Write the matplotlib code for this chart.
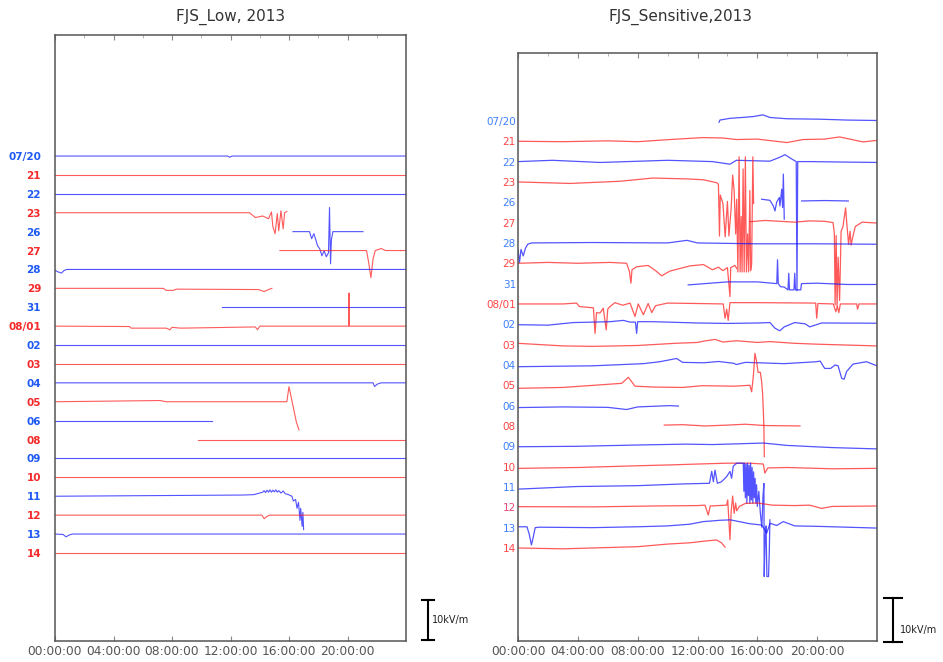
import matplotlib.pyplot as plt
import numpy as np

days = ['07/20', '21', '22', '23', '26', '27', '28', '29', '31', '08/01', '02',
        '03', '04', '05', '06', '08', '09', '10', '11', '12', '13', '14']
spacing = 4.7  # kV/m between two day baselines
tick_hours = [0, 4, 8, 12, 16, 20]
tick_labels = ['00:00:00', '04:00:00', '08:00:00', '12:00:00', '16:00:00', '20:00:00']

# ---- FJS_Low: segments of (hour, kV/m above the day's baseline)
low_0720 = [[(0, 0), (11.8, 0), (11.95, -0.3), (12.1, 0), (24, 0)]]
low_21 = [[(0, 0), (24, 0)]]
low_22 = [[(0, 0), (24, 0)]]
low_23 = [[(0, 0), (13.3, 0), (13.7, -1.2), (14.2, -0.8), (14.6, -1.5), (14.8, 0.2), (14.9, -3.5),
           (15.05, -5.2), (15.2, -0.2), (15.3, -4.5), (15.45, 0.5), (15.6, -4), (15.7, 0), (15.85, 0.3)]]
low_26 = [[(16.27, 0), (17.4, 0), (17.55, -1.75), (17.7, -0.5), (17.85, -2.25), (17.95, -3.5),
           (18.1, -4.25), (18.25, -6), (18.4, -4.75), (18.55, -6.25), (18.7, -5.25), (18.77, 6),
           (18.84, -8), (18.9, -2), (19.0, 0), (21.06, 0)]]
low_27 = [[(15.38, 0), (21.3, 0), (21.45, -3), (21.6, -6.75), (21.75, -2), (21.9, 0), (22.3, 0.5),
           (22.6, 0), (24, 0)]]
low_28 = [[(0, -0.2), (0.2, -0.6), (0.45, -0.9), (0.6, -0.3), (0.8, 0), (24, 0)]]
low_29 = [[(0, 0), (7.4, 0), (7.6, -0.5), (8.1, -0.5), (8.3, -0.2), (13.9, -0.3), (14.3, -0.8),
           (14.6, -0.3), (14.83, 0)]]
low_31 = [[(11.42, 0), (24, 0)]]
low_0801 = [[(0, 0), (5.1, -0.1), (5.2, -0.5), (5.8, -0.5), (7.6, -0.5), (7.85, -0.9), (8.0, -0.3),
             (8.6, -0.5), (13.7, -0.2), (13.85, -0.9), (14.0, 0), (20.08, 0), (20.1, 8.25),
             (20.13, 0), (24, 0)]]
low_02 = [[(0, 0), (24, 0)]]
low_03 = [[(0, 0), (24, 0)]]
low_04 = [[(0, 0), (21.75, 0), (21.85, -0.9), (22.05, -0.3), (22.3, 0), (24, 0)]]
low_05 = [[(0, 0), (7.2, 0.3), (7.6, 0), (15.85, 0), (16.0, 3.75), (16.1, 2), (16.3, -1.5),
           (16.5, -5), (16.68, -7)]]
low_06 = [[(0, 0), (10.75, 0)]]
low_08 = [[(9.78, 0), (24, 0)]]
low_09 = [[(0, 0), (24, 0)]]
low_10 = [[(0, 0), (24, 0)]]
low_11 = [[(0, 0), (12.9, 0.3), (13.6, 0.4), (14.2, 1.0), (14.3, 1.4), (14.4, 0.9), (14.5, 1.5),
           (14.6, 1.0), (14.7, 1.6), (14.8, 1.0), (14.9, 1.5), (15.0, 1.1), (15.1, 1.6),
           (15.2, 1.0), (15.3, 1.4), (15.45, 0.8), (15.6, 1.3), (15.75, 0.6), (15.9, 0.5),
           (16.2, 0), (16.3, -1.2), (16.45, -0.8), (16.55, -3), (16.65, -1.5), (16.75, -6),
           (16.8, -3), (16.9, -7.5), (16.95, -4), (17.0, -8.3)]]
low_12 = [[(0, 0), (14.15, 0), (14.3, -0.9), (14.5, -0.3), (14.7, 0), (24, 0)]]
low_13 = [[(0, 0), (0.55, -0.1), (0.75, -0.7), (1.0, -0.2), (1.2, 0), (24, 0)]]
low_14 = [[(0, 0), (24, 0)]]

# ---- FJS_Sensitive
sen_0720 = [[(13.44, -0.3), (13.5, 0.2), (14.17, 0.6), (15.0, 0.8), (15.71, 1.0), (16.38, 1.4),
             (16.84, 0.8), (17.98, 0.5), (20.19, 0.4), (22.0, 0.2), (24, 0.1)]]
sen_21 = [[(0, 0), (3, -0.1), (6, 0.1), (8, -0.1), (10.16, 0.4), (12.37, 0.85), (13.7, 0.75),
           (14.6, 0.4), (16.0, 0.5), (17.98, -0.3), (19.05, 0.4), (20.5, 0.5), (21.5, 1.0),
           (23.06, -0.15), (24, 0.2)]]
sen_22 = [[(0, 0), (2.3, 0.3), (5.5, -0.2), (10.0, 0.3), (13.0, 0), (14.17, -0.6), (14.6, 0.3),
           (16.84, 0.1), (17.5, 1.0), (17.85, 1.6), (18.3, 0.6), (18.6, 0), (18.65, -29.8),
           (18.7, 0), (19.5, 0), (24, -0.2)]]
sen_23 = [[(0, 0), (3.48, -0.35), (6.8, 0.15), (9.0, 0.9), (11.3, 0.7), (12.4, 0.5), (13.3, -0.2),
           (13.4, -0.6), (13.47, -12.5), (13.52, -3), (13.7, -5), (13.85, -12.7), (14.0, -4.5),
           (14.1, -12.5), (14.25, -6), (14.35, 1.6), (14.45, -2), (14.55, -12), (14.62, -4),
           (14.7, -20.8), (14.78, 5.8), (14.85, -20.8), (14.92, -8), (14.98, -20.8), (15.05, 3),
           (15.12, -20.8), (15.2, 5.8), (15.27, -20.8), (15.35, -12), (15.42, -20.8), (15.5, -2),
           (15.55, -20.5), (15.62, -19), (15.7, 5.8), (15.75, -5)]]
sen_26 = [[(16.29, 0.7), (16.84, 0.45), (17.07, -0.85), (17.18, -2.0), (17.29, 0), (17.47, 1.1),
           (17.51, -0.85), (17.63, 3), (17.69, -1.2), (17.74, 6.5), (17.8, -3.9)],
          [(18.96, 0.3), (20.5, 0.4), (22.08, 0.3)]]
sen_27 = [[(15.5, 0.2), (16.5, 0.5), (17.5, 0.3), (18.5, 0.1), (19.5, 0.4), (20.5, 0.3),
           (21.06, 0), (21.15, -2.5), (21.2, -19), (21.27, -3), (21.33, -19.4), (21.4, -8),
           (21.5, -18), (21.6, -2), (21.72, -1), (21.9, 3.4), (22.0, -1), (22.1, -5), (22.2, -2),
           (22.27, -5.2), (22.4, -3), (22.55, -0.9), (23.0, 0.1), (24, -0.1)]]
sen_28 = [[(0, -1.5), (0.1, -4.5), (0.2, -1.5), (0.35, -3), (0.5, -1.2), (0.65, -0.3), (0.9, 0),
           (5, 0.1), (10, 0), (11.3, 0.6), (12, 0), (16, -0.2), (20, -0.2), (24, -0.3)]]
sen_29 = [[(0, 0), (2, 0.2), (4, 0), (6.15, 0.2), (7.26, 0), (7.45, -1.9), (7.55, -4.6),
           (7.62, -1.5), (7.93, -0.8), (8.7, -0.5), (9.27, -1.9), (9.6, -2.9), (10.16, -1.8),
           (11.5, -0.6), (12.4, -0.3), (13.0, -1.5), (13.4, -0.9), (13.7, -1.7), (14.0, -1.0),
           (14.17, -7.7), (14.22, -1.0), (14.5, -0.5), (14.62, -1.2)]]
sen_31 = [[(11.38, -0.3), (14, 0.4), (16, 0.4), (17.3, 0), (17.35, 5.5), (17.4, 0), (17.55, -0.7),
           (17.8, -0.8), (18.05, -1.45), (18.1, 2.4), (18.15, -1.45), (18.45, -1.45), (18.5, 2.4),
           (18.55, -1.45), (18.9, -1.45), (18.95, 0), (20, 0.1), (22, -0.2), (24, -0.2)]]
sen_0801 = [[(0, 0), (3, 0), (3.92, 0.2), (4.1, -0.6), (5.04, -0.9), (5.15, -6.8), (5.25, -2),
             (5.48, -2.1), (5.7, -1.0), (5.9, -6.0), (6.0, -1.2), (6.15, -0.6), (6.48, 0.3),
             (7.0, -0.3), (7.49, 0.2), (7.82, -2.9), (8.04, 0), (8.38, -2.5), (8.7, 0.1),
             (8.94, -2.0), (9.2, -0.4), (10, 0.2), (12, 0.1), (13.72, 0), (13.84, -3.3),
             (13.95, -1.2), (14.05, -3.8), (14.17, 0.3), (16, 0.3), (19.9, 0.2), (19.97, -3.3),
             (20.05, 0.1), (21.08, 0), (21.25, -1.8), (21.35, -0.6), (21.45, -2.0), (21.55, 0),
             (22.64, 0), (22.7, -1.2), (22.8, 0), (24, 0)]]
sen_02 = [[(0, -0.1), (2, -0.2), (3.7, 0.4), (5, 0.5), (6.15, 0.6), (7.04, 0.9), (7.5, 0.5),
           (7.85, 0.5), (7.93, -2.1), (8.0, 0.6), (9, 0.6), (10, 0.5), (12, 0.3), (14, 0.2),
           (16, 0.3), (16.84, 0.4), (17.18, -0.9), (17.5, -1.5), (17.8, -0.6), (18.5, 0.4),
           (19.2, 0.1), (19.5, -0.6), (20.3, 0.3), (24, 0.25)]]
sen_03 = [[(0, 0.3), (3, -0.3), (5, -0.4), (8, -0.2), (10.5, 0.3), (12, 0.5), (12.4, 0.8),
           (13.17, 1.2), (13.7, 0.6), (14.6, 0.9), (16, 0.5), (16.84, 0.7), (18.5, 0.3),
           (20, 0.1), (24, -0.3)]]
sen_04 = [[(0, -0.4), (5, -0.2), (8.38, 0.3), (9.49, 0.75), (10.6, 1.5), (11, 0.6), (12.4, 0.5),
           (13.4, 0.8), (14.4, 0.4), (14.6, 0.1), (15.2, 0.6), (17.8, 0.3), (19.97, 0.75),
           (20.2, 0.9), (20.5, -0.8), (20.9, -0.8), (21.2, 0.0), (21.4, -0.2), (21.64, -3.1),
           (21.8, -3.3), (21.97, -1.5), (22.4, 0.2), (23.3, 0.75), (24, -0.2)]]
sen_05 = [[(0, -0.7), (3, -0.5), (6.93, 0.45), (7.38, 1.85), (7.82, -0.2), (9, -0.4),
           (11, -0.5), (12.3, -0.1), (14.5, -0.2), (15.5, 0), (15.62, -1.5), (15.73, 2),
           (15.84, 7.4), (15.95, 5.5), (16.05, 3), (16.2, 3), (16.29, 0.8), (16.35, -1.8),
           (16.4, -5.7), (16.44, -10), (16.47, -16.5)]]
sen_06 = [[(0, -0.45), (3, -0.3), (6, -0.4), (7.26, -0.9), (8, -0.3), (10.16, 0), (10.72, -0.1)]]
sen_08 = [[(9.78, 0.2), (11, 0.3), (12.5, 0.0), (14, 0.2), (15.2, 0.4), (16.5, 0.1), (18.85, 0.0)]]
sen_09 = [[(0, -0.1), (4, 0.0), (8, 0.3), (11.2, 0.5), (13, 0.4), (16.4, 0.75), (18, 0.2),
           (21, -0.3), (24, -0.6)]]
sen_10 = [[(0, -0.4), (4, -0.2), (8, 0.2), (10.2, 0.4), (12, 0.6), (14, 0.8), (15.5, 0.8),
           (16.4, 0.6), (16.5, -1.5), (16.7, -0.3), (18, -0.2), (21, -0.5), (24, -0.4)]]
sen_11 = [[(0, -0.5), (3.9, 0.1), (8, 0.3), (11, 0.7), (12.8, 0.85), (12.95, 3.6), (13.06, 1.2),
           (13.17, 3.9), (13.33, 0.85), (13.6, 1.2), (13.95, 2.4), (14.17, 3.6), (14.28, 2.0),
           (14.39, 4.8), (14.62, 5.5), (15.06, 5.5), (15.1, -1), (15.15, 5.5), (15.2, -2.5),
           (15.25, 5.3), (15.3, -3.8), (15.35, 5.5), (15.4, -2), (15.45, 5.0), (15.5, -3.8),
           (15.55, 5.5), (15.6, -3.0), (15.65, 4.5), (15.7, -3.8), (15.75, 3.5), (15.8, -2.5),
           (15.85, 2.0), (15.9, -3.8), (15.95, 0.5), (16.0, -4.5), (16.1, -1), (16.2, -6),
           (16.3, -9.3), (16.38, -2), (16.44, 0.8), (16.46, -20.7), (16.52, -12), (16.58, -9),
           (16.64, -20.7), (16.75, -20.7), (16.8, -15), (16.84, -7.6)]]
sen_12 = [[(0, 0.15), (5, 0.1), (9, 0.3), (12, 0.4), (12.5, 0.5), (12.72, -1.8), (12.85, 0.3),
           (13.95, 0.5), (14.02, 1.7), (14.17, -7.5), (14.25, -1), (14.35, 2.6), (14.45, -1.4),
           (14.55, 1.0), (14.62, -0.8), (14.8, 0.2), (15.2, 0.9), (16, 1.0), (17, 0.5),
           (18.5, 0.4), (19.5, 0.5), (20.3, -0.25), (21, 0.2), (24, 0.3)]]
sen_13 = [[(0, 0.2), (0.6, 0.2), (0.75, -1.5), (0.9, -4.0), (1.0, -2.5), (1.15, 0.0), (1.4, 0.1),
           (5, 0.0), (8, 0.2), (10, 0.4), (11.5, 0.8), (12.4, 1.4), (13.5, 1.7), (14.2, 1.8),
           (15.5, 0.9), (16.3, 0.6), (16.5, -0.5), (16.62, -1.3), (16.85, 1.0), (17.3, 0.5),
           (17.73, 1.4), (18.5, 0.4), (20, 0.3), (22, 0.1), (24, -0.1)]]
sen_14 = [[(0, 0), (3, -0.2), (5, 0.0), (8, 0.3), (10, 0.9), (11.5, 1.2), (12.5, 1.6),
           (13.28, 1.85), (13.6, 1.2), (13.84, 0.2)]]

low_traces = [low_0720, low_21, low_22, low_23, low_26, low_27, low_28, low_29, low_31, low_0801,
              low_02, low_03, low_04, low_05, low_06, low_08, low_09, low_10, low_11, low_12,
              low_13, low_14]
sen_traces = [sen_0720, sen_21, sen_22, sen_23, sen_26, sen_27, sen_28, sen_29, sen_31, sen_0801,
              sen_02, sen_03, sen_04, sen_05, sen_06, sen_08, sen_09, sen_10, sen_11, sen_12,
              sen_13, sen_14]

fig = plt.figure(figsize=(9.43, 6.62), dpi=100)
ax_low = fig.add_axes([55 / 943, 21 / 662, 351 / 943, 606 / 662])
ax_sen = fig.add_axes([518 / 943, 21 / 662, 359 / 943, 588 / 662])


def draw_panel(ax, traces, ylim, lw, label_colors, bold, pad):
    base = -spacing * np.arange(len(days))
    for i, segs in enumerate(traces):
        c = '#1010ff' if i % 2 == 0 else '#ff1a1a'
        for seg in segs:
            seg = np.array(seg)
            ax.plot(seg[:, 0], base[i] + seg[:, 1], color=c, lw=lw, alpha=0.72)
    ax.set_xlim(0, 24)
    ax.set_ylim(*ylim)
    ax.set_xticks(tick_hours)
    ax.set_xticklabels(tick_labels, fontsize=8.8, color='#555555')
    ax.set_xticks(np.arange(2, 24, 4), minor=True)
    ax.set_yticks(base)
    ax.set_yticklabels(days, fontsize=7.5, fontweight='bold' if bold else 'normal')
    for k, lbl in enumerate(ax.get_yticklabels()):
        lbl.set_color(label_colors[k % 2])
    ax.tick_params(axis='x', which='major', direction='in', length=3.5, color='#888888',
                   top=True, pad=3)
    ax.tick_params(axis='x', which='minor', direction='in', length=2, color='#aaaaaa',
                   top=True, bottom=False)
    ax.tick_params(axis='y', length=0, pad=pad)
    for sp in ax.spines.values():
        sp.set_color('#555555')
        sp.set_linewidth(1.1)


draw_panel(ax_low, low_traces, (-120.6, 30.1), 0.8, ['#1f5af5', '#f42a2a'], True, 10)
draw_panel(ax_sen, sen_traces, (-120.2, 15.7), 0.9, ['#3d80ff', '#ff4545'], False, 1.5)
ax_sen.get_yticklabels()[19].set_color('#e84a7a')

# 10 kV/m scale bars
ax_low.plot([25.5, 25.5], [-120.4, -110.4], color='black', lw=1.5, clip_on=False)
ax_low.plot([25.1, 25.9], [-120.4, -120.4], color='black', lw=1.5, clip_on=False)
ax_low.plot([25.1, 25.9], [-110.4, -110.4], color='black', lw=1.5, clip_on=False)
ax_low.text(25.8, -115.4, '10kV/m', fontsize=7, va='center', ha='left', color='#222222')

ax_sen.plot([25.07, 25.07], [-120.4, -110.3], color='black', lw=1.5, clip_on=False)
ax_sen.plot([24.47, 25.67], [-120.4, -120.4], color='black', lw=1.5, clip_on=False)
ax_sen.plot([24.47, 25.67], [-110.3, -110.3], color='black', lw=1.5, clip_on=False)
ax_sen.text(25.53, -117.7, '10kV/m', fontsize=7, va='center', ha='left', color='#222222')

fig.text(231 / 943, 1 - 17 / 662, 'FJS_Low, 2013', fontsize=11, color='#333333',
         ha='center', va='center')
fig.text(681 / 943, 1 - 17 / 662, 'FJS_Sensitive,2013', fontsize=11, color='#333333',
         ha='center', va='center')

fig.savefig('out.png', dpi=100)
